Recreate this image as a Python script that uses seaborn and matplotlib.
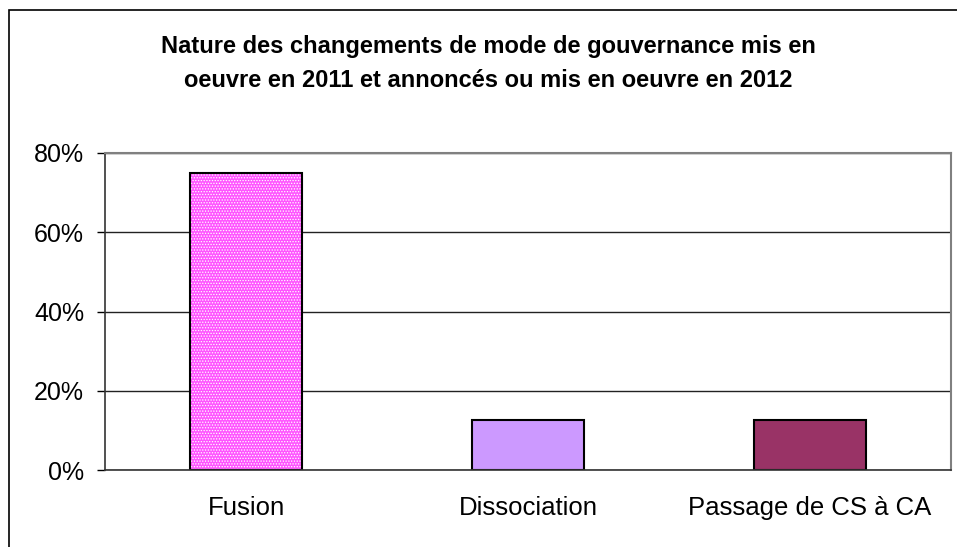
import matplotlib
matplotlib.use("Agg")
import matplotlib.pyplot as plt
import matplotlib.ticker as mticker
from matplotlib.patches import Rectangle
import seaborn as sns

# ─────────────────────────────
#  DATA
# ─────────────────────────────
categories = ["Fusion", "Dissociation", "Passage de CS à CA"]
values     = [0.75, 0.125, 0.125]
bar_colors = ["#FF55FF", "#CC99FF", "#993366"]
y_ticks    = [0.0, 0.2, 0.4, 0.6, 0.8]
title      = ("Nature des changements de mode de gouvernance mis en\n"
              "oeuvre en 2011 et annoncés ou mis en oeuvre en 2012")

# ─────────────────────────────
#  STYLE
# ─────────────────────────────
sns.set_style("white")
plt.rcParams['font.family'] = ['Liberation Sans', 'DejaVu Sans']
plt.rcParams['text.color'] = 'black'
plt.rcParams['hatch.linewidth'] = 0.6

fig = plt.figure(figsize=(9.57, 5.47), dpi=100)
ax = fig.add_axes([105 / 957, 1 - 470 / 547, (951 - 105) / 957, (470 - 153) / 547])

sns.barplot(x=categories, y=values, hue=categories, palette=bar_colors,
            legend=False, width=0.4, saturation=1, edgecolor="white",
            linewidth=0, ax=ax)

# dotted pattern on the first bar, then black outlines on every bar
ax.patches[0].set_hatch("......")
for p in list(ax.patches):
    ax.add_patch(Rectangle(p.get_xy(), p.get_width(), p.get_height(),
                           fill=False, edgecolor="black", linewidth=1.5, zorder=3))

# ─────────────────────────────
#  AXES
# ─────────────────────────────
ax.set_xlim(-0.5, len(categories) - 0.5)
ax.set_ylim(0, 0.8)
ax.set_yticks(y_ticks)
ax.yaxis.set_major_formatter(mticker.PercentFormatter(1.0, decimals=0))
ax.set_xticks(range(len(categories)))
ax.set_xticklabels(categories)
ax.set_xticks([i - 0.5 for i in range(len(categories) + 1)], minor=True)
ax.tick_params(axis="x", which="major", length=0, pad=19, labelsize=18.5, colors="black")
ax.tick_params(axis="x", which="minor", length=6, width=1, color="#808080", direction="out")
ax.tick_params(axis="y", which="major", length=6, width=1, pad=9, labelsize=18,
               colors="black", direction="out", left=True)
ax.set_xlabel("")
ax.set_ylabel("")

ax.grid(axis="y", color="#222222", linewidth=1)
ax.set_axisbelow(True)
for side in ["left", "bottom"]:
    ax.spines[side].set_color("#333333")
    ax.spines[side].set_linewidth(1.2)
for side in ["top", "right"]:
    ax.spines[side].set_color("#808080")
    ax.spines[side].set_linewidth(1.5)
ax.spines["bottom"].set_zorder(4)

fig.text(0.51, 1 - 63.5 / 547, title, ha="center", va="center", fontsize=17,
         fontweight="bold", linespacing=1.6, color="black")

# outer chart frame
fig.patches.append(Rectangle((8.5 / 957, -0.05), 1.2, 1 - 9.5 / 547 + 0.05,
                             transform=fig.transFigure, fill=False,
                             edgecolor="black", linewidth=1.2, zorder=0))

fig.savefig("out.png", dpi=100, facecolor="white")
